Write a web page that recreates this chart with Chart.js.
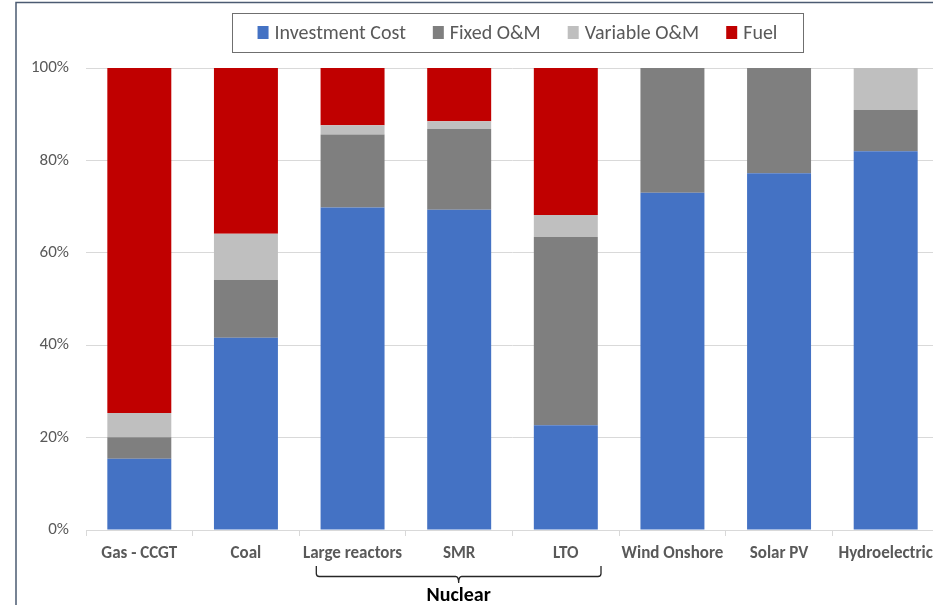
<!DOCTYPE html>
<html>
<head>
<meta charset="utf-8">
<script src="https://cdn.jsdelivr.net/npm/chart.js@4.4.1/dist/chart.umd.min.js"></script>
<style>
  html, body { margin: 0; padding: 0; background: #ffffff; overflow: hidden; width: 933px; height: 605px; }
  #wrap { position: absolute; left: 0; top: 0; width: 950px; height: 605px; }
</style>
</head>
<body>
<div id="wrap"><canvas id="c" width="950" height="605"></canvas></div>
<script>
// Cost structure by technology (share of total, %)
const categories = ['Gas - CCGT', 'Coal', 'Large reactors', 'SMR', 'LTO', 'Wind Onshore', 'Solar PV', 'Hydroelectric'];
const investmentCost = [15.4, 41.6, 69.8, 69.3, 22.7, 73.0, 77.2, 82.0];
const fixedOM        = [4.7, 12.5, 15.8, 17.5, 40.7, 27.0, 22.8, 8.9];
const variableOM     = [5.2, 10.0, 2.0, 1.7, 4.8, 0, 0, 9.1];
const fuel           = [74.7, 35.9, 12.4, 11.5, 31.8, 0, 0, 0];
const yTicks = [0, 20, 40, 60, 80, 100];
const groupLabel = 'Nuclear';
const groupFrom = 'Large reactors';
const groupTo = 'LTO';

const FONT = "Carlito, Lato, 'Liberation Sans', sans-serif";
const TEXT = '#595959';

// Outer frame lines of the chart panel
const framePlugin = {
  id: 'frame',
  afterDraw(chart) {
    const ctx = chart.ctx;
    ctx.save();
    ctx.strokeStyle = '#4b5b72';
    ctx.lineWidth = 1.5;
    ctx.beginPath();
    ctx.moveTo(16, 605);
    ctx.lineTo(16, 2.5);
    ctx.lineTo(chart.width, 2.5);
    ctx.stroke();
    ctx.restore();
  }
};

// Boxed legend across the top
const legendPlugin = {
  id: 'boxedLegend',
  afterDraw(chart) {
    const ctx = chart.ctx;
    ctx.save();
    ctx.font = '20px ' + FONT;
    const sqW = 11, sqH = 13, gapIn = 6, gapOut = 27;
    const items = chart.data.datasets.map(d => ({
      label: d.label, color: d.backgroundColor, w: ctx.measureText(d.label).width
    }));
    let total = 0;
    items.forEach((it, i) => { total += sqW + gapIn + it.w + (i ? gapOut : 0); });
    const bx = 232, by = 13, bw = 571, bh = 39;
    const cy = by + bh / 2;
    ctx.strokeStyle = '#6f6f6f';
    ctx.lineWidth = 1;
    ctx.strokeRect(bx + 0.5, by + 0.5, bw, bh);
    let x = bx + bw / 2 - total / 2;
    ctx.textBaseline = 'middle';
    ctx.textAlign = 'left';
    items.forEach(it => {
      ctx.fillStyle = it.color;
      ctx.fillRect(x, cy - sqH / 2, sqW, sqH);
      x += sqW + gapIn;
      ctx.fillStyle = TEXT;
      ctx.fillText(it.label, x, cy + 1);
      x += it.w + gapOut;
    });
    ctx.restore();
  }
};

// Bracket grouping categories below the x axis
const bracketPlugin = {
  id: 'groupBracket',
  afterDraw(chart) {
    const xs = chart.scales.x;
    const i0 = categories.indexOf(groupFrom), i1 = categories.indexOf(groupTo);
    const step = xs.getPixelForValue(1) - xs.getPixelForValue(0);
    const left = xs.getPixelForValue(i0) - step * 0.34;
    const right = xs.getPixelForValue(i1) + step * 0.33;
    const mid = (left + right) / 2;
    const yTop = 566, yLine = 576.5, yTip = 583, r = 3;
    const ctx = chart.ctx;
    ctx.save();
    ctx.strokeStyle = '#262626';
    ctx.lineWidth = 1.3;
    ctx.beginPath();
    ctx.moveTo(left, yTop);
    ctx.lineTo(left, yLine - r);
    ctx.quadraticCurveTo(left, yLine, left + r, yLine);
    ctx.lineTo(mid - r, yLine);
    ctx.quadraticCurveTo(mid, yLine, mid, yTip);
    ctx.quadraticCurveTo(mid, yLine, mid + r, yLine);
    ctx.lineTo(right - r, yLine);
    ctx.quadraticCurveTo(right, yLine, right, yLine - r);
    ctx.lineTo(right, yTop);
    ctx.stroke();
    ctx.fillStyle = '#000000';
    ctx.font = 'bold 20px ' + FONT;
    ctx.textAlign = 'center';
    ctx.textBaseline = 'middle';
    ctx.fillText(groupLabel, mid, 596);
    ctx.restore();
  }
};

new Chart(document.getElementById('c'), {
  type: 'bar',
  data: {
    labels: categories,
    datasets: [
      { label: 'Investment Cost', data: investmentCost, backgroundColor: '#4472c4' },
      { label: 'Fixed O&M', data: fixedOM, backgroundColor: '#7f7f7f' },
      { label: 'Variable O&M', data: variableOM, backgroundColor: '#bfbfbf' },
      { label: 'Fuel', data: fuel, backgroundColor: '#c00000' }
    ]
  },
  options: {
    responsive: false,
    animation: false,
    devicePixelRatio: 1,
    layout: { padding: { top: 68, left: 0, right: 11, bottom: 0 } },
    datasets: { bar: { barPercentage: 0.6, categoryPercentage: 1.0, borderWidth: 0 } },
    plugins: {
      legend: { display: false },
      tooltip: { enabled: false }
    },
    scales: {
      x: {
        stacked: true,
        afterFit(scale) { scale.height = 75; },
        grid: { offset: true, drawOnChartArea: false, drawTicks: true, tickLength: 6, color: '#d9d9d9' },
        border: { color: '#d9d9d9' },
        ticks: { color: TEXT, font: { family: FONT, size: 17, weight: 'bold' }, padding: 8, maxRotation: 0, autoSkip: false }
      },
      y: {
        stacked: true,
        min: 0,
        max: 100,
        afterFit(scale) { scale.width = 86; },
        afterBuildTicks(scale) { scale.ticks = yTicks.map(v => ({ value: v })); },
        grid: { color: '#d9d9d9', drawTicks: false },
        border: { display: false },
        ticks: { color: TEXT, font: { family: FONT, size: 17 }, padding: 17, callback: v => v + '%' }
      }
    }
  },
  plugins: [framePlugin, legendPlugin, bracketPlugin]
});
</script>
</body>
</html>
